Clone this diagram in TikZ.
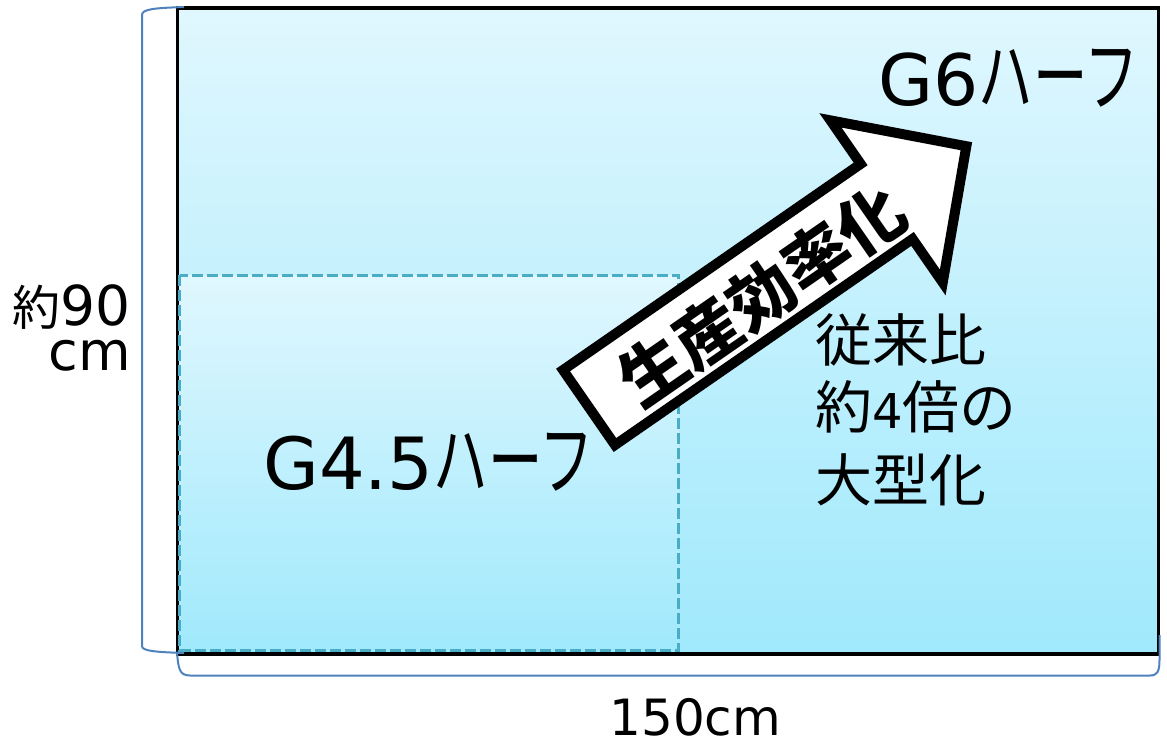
\documentclass[tikz,border=0pt]{standalone}
\usepackage{fontspec}
\usepackage{graphicx}
\setmainfont{DejaVu Sans}
\newfontfamily\cjk{Noto Sans CJK JP}
\definecolor{topc}{HTML}{E0F7FE}
\definecolor{botc}{HTML}{A0E9FC}
\definecolor{dashc}{HTML}{4BACC6}
\definecolor{bracec}{HTML}{4F81BD}
\newcommand\kana[2]{\scalebox{0.68}[1]{\fontsize{#1}{#1}\selectfont\cjk #2}}
\begin{document}
\begin{tikzpicture}[x=0.5pt,y=-0.5pt,
  frame/.style={draw=black,line width=1.75pt},
  halfbox/.style={draw=dashc,line width=1.5pt,dash pattern=on 5.5pt off 2pt},
  bracket/.style={draw=bracec,line width=1pt},
  bigarrow/.style={draw=black,fill=white,line width=5pt,miter limit=10},
  lbl/.style={inner sep=0pt,anchor=base west},
  lblr/.style={inner sep=0pt,anchor=base east}]
\useasboundingbox (0,0) rectangle (1167,741);
% main panel
\shade[top color=topc,bottom color=botc] (177.5,8) rectangle (1158.5,654);
\draw[frame] (177.5,8) rectangle (1158.5,654);
% G4.5 half panel
\shade[top color=topc,bottom color=botc] (179.5,275) rectangle (678.5,650);
\draw[halfbox] (179.5,275) rectangle (678.5,650);
% arrow
\begin{scope}[shift={(589,407.5)},rotate=34.7]
\draw[bigarrow] (0,45.6) -- (362,45.6) -- (362,98.6) -- (459,0) -- (362,-98.6) -- (362,-45.6) -- (0,-45.6) -- cycle;
\node[transform shape,inner sep=0pt] (eff) at (206,5.9) {\fontsize{33}{36}\selectfont\cjk\bfseries 生産効率化};
\end{scope}
% labels
\node[lbl] (g6) at (878,105) {\fontsize{35.5}{40}\selectfont G6\kana{40}{ハーフ}};
\node[lbl] (g45) at (263,489) {\fontsize{36}{40}\selectfont G4.5\kana{40}{ハーフ}};
\node[lbl] (l1) at (815,361) {\fontsize{28.5}{30}\selectfont\cjk 従来比};
\node[lbl] (l2) at (815,428) {{\fontsize{28.5}{30}\selectfont\cjk 約}{\fontsize{24}{30}\selectfont 4}{\fontsize{28.5}{30}\selectfont\cjk 倍の}};
\node[lbl] (l3) at (815,501) {\fontsize{28.5}{30}\selectfont\cjk 大型化};
\node[lblr] (h1) at (131,325) {{\fontsize{24}{28}\selectfont\cjk 約}{\fontsize{27.5}{30}\selectfont 90}};
\node[lblr] (h2) at (131,370) {\fontsize{27}{30}\selectfont cm};
\node[lbl,text depth=0pt] (w) at (609,735) {\fontsize{25}{30}\selectfont 150cm};
% brackets
\draw[bracket] (184,7) .. controls (155,8) and (142,9) .. (142,15) -- (142,646) .. controls (142,651) and (155,652) .. (184,653);
\draw[bracket] (177,653) .. controls (178.5,668) and (179,675.5) .. (190,675.5) -- (1150,675.5) .. controls (1157,675.5) and (1159.5,672) .. (1159.5,660) -- (1159.5,635);
\end{tikzpicture}
\end{document}
